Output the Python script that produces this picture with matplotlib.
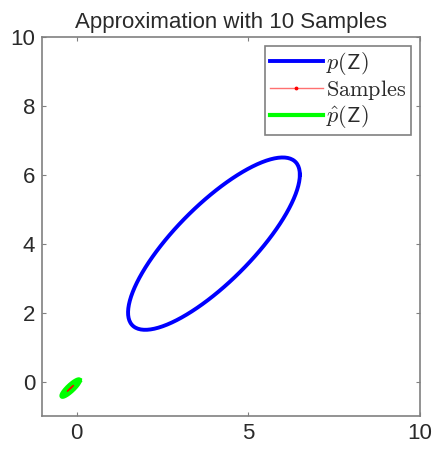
import numpy as np
import matplotlib
matplotlib.use("Agg")
import matplotlib.pyplot as plt

plt.rcParams['mathtext.fontset'] = 'cm'
plt.rcParams['font.family'] = ['Liberation Sans', 'DejaVu Sans']

# True distribution p(Z)
p_mean = [4.0, 4.0]
p_cov = [[1.5625, 1.25], [1.25, 1.5625]]
# Approximation p_hat(Z)
q_mean = [-0.17, -0.19]
q_cov = [[0.018, 0.015], [0.015, 0.016]]
n_std = 2.0

# Samples (10)
sample_x = [-0.22, -0.18, -0.15, -0.20, -0.12, -0.17, -0.24, -0.14, -0.19, -0.16]
sample_y = [-0.24, -0.20, -0.16, -0.22, -0.14, -0.19, -0.25, -0.17, -0.21, -0.18]

title = "Approximation with 10 Samples"
xticks = [0, 5, 10]
yticks = [0, 2, 4, 6, 8, 10]


def ellipse(mean, cov, k, n=200):
    t = np.linspace(0, 2 * np.pi, n)
    L = np.linalg.cholesky(np.array(cov))
    circ = np.vstack([np.cos(t), np.sin(t)]) * k
    pts = L @ circ
    return pts[0] + mean[0], pts[1] + mean[1]


fig = plt.figure(figsize=(4.39, 4.49), dpi=100)
ax = fig.add_axes([0.096, 0.0735, 0.861, 0.8445])

px, py = ellipse(p_mean, p_cov, n_std)
ax.plot(px, py, color='blue', lw=2.8, label=r'$p(\mathsf{Z})$')
qx, qy = ellipse(q_mean, q_cov, n_std)
ax.fill(qx, qy, color='#00ff00', lw=0)
ax.plot(sample_x, sample_y, color='#ff7070', lw=1.0, marker='.',
        markersize=3.5, markerfacecolor='red', markeredgecolor='red',
        label=r'$\mathrm{Samples}$')
ax.plot(qx, qy, color='#00ff00', lw=3.0, label=r'$\hat{p}(\mathsf{Z})$')

ax.set_xlim(-1, 10)
ax.set_ylim(-1, 10)
ax.set_xticks(xticks)
ax.set_yticks(yticks)
ax.tick_params(direction='in', top=True, right=True, color='#808080',
               labelcolor='#2a2a2a', labelsize=16, length=3, pad=5)
for s in ax.spines.values():
    s.set_color('#808080')
    s.set_linewidth(1.2)
ax.set_title(title, fontsize=16, pad=6, color='#2a2a2a')

leg = ax.legend(loc='upper right', fontsize=16, fancybox=False,
                framealpha=1, edgecolor='#808080', borderpad=0.2,
                handlelength=2.4, handletextpad=0.15, labelspacing=0.05,
                borderaxespad=0.4)
leg.get_frame().set_linewidth(1.2)
for t in leg.get_texts():
    t.set_color('#2a2a2a')

fig.savefig('out.png', dpi=100)
